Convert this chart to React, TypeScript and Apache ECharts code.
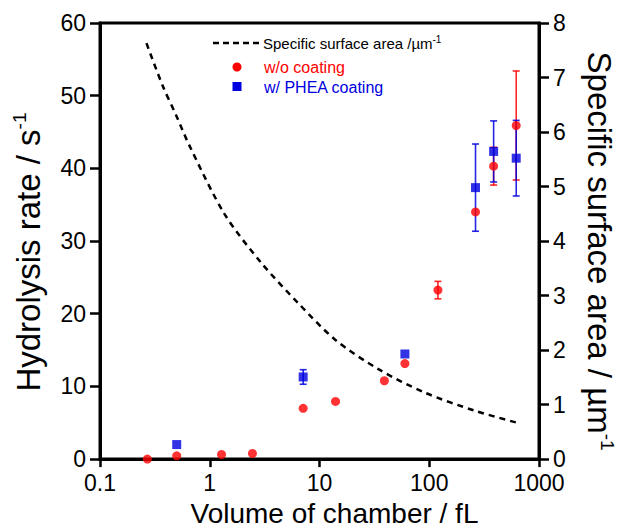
import React, { useEffect, useRef } from "react";
import * as echarts from "echarts";

// Volumes (fL) and hydrolysis rates (s^-1)
const redVolume = [0.27, 0.5, 1.28, 2.45, 7.1, 14, 39, 60, 120, 264, 386, 620];
const redRate = [0.0, 0.45, 0.63, 0.77, 6.98, 7.93, 10.78, 13.14, 23.25, 34.0, 40.3, 45.9];
const redErr = [0, 0, 0, 0, 0, 0, 0, 0, 1.2, 0, 2.6, 7.5];

const blueVolume = [0.5, 7.1, 60, 264, 386, 620];
const blueRate = [2.0, 11.3, 14.46, 37.35, 42.33, 41.4];
const blueErr = [0, 1.0, 0, 6.0, 4.2, 5.2];

// Specific surface area curve (µm^-1)
const curveVolume = [0.265, 0.374, 0.496, 0.653, 1.36, 2.92, 6.48, 13.9, 34.4, 91, 258, 637];
const curveSSA = [7.63, 6.84, 6.3, 5.75, 4.5, 3.61, 2.85, 2.19, 1.65, 1.22, 0.89, 0.665];

const xTickLabels = ["0.1", "1", "10", "100", "1000"];

const legendLabels = ["Specific surface area /µm", "w/o coating", "w/ PHEA coating"];

const FONT = "'Liberation Sans', Arial, sans-serif";
const RED = "#ff0000";
const BLUE = "#0000e0";

function errorRender(color: string) {
  return (params: any, api: any) => {
    const x = api.value(0);
    const y = api.value(1);
    const e = api.value(2);
    if (!e) return null;
    const top = api.coord([x, y + e]);
    const bot = api.coord([x, y - e]);
    const w = 3.5;
    const style = { stroke: color, lineWidth: 1.6, opacity: 0.85 };
    return {
      type: "group",
      children: [
        { type: "line", shape: { x1: top[0], y1: top[1], x2: bot[0], y2: bot[1] }, style },
        { type: "line", shape: { x1: top[0] - w, y1: top[1], x2: top[0] + w, y2: top[1] }, style },
        { type: "line", shape: { x1: bot[0] - w, y1: bot[1], x2: bot[0] + w, y2: bot[1] }, style },
      ],
    };
  };
}

const titleRich = {
  t: { fontSize: 33, fontFamily: FONT, color: "#000", lineHeight: 36 },
  s: { fontSize: 19, fontFamily: FONT, color: "#000", verticalAlign: "top", lineHeight: 36 },
};

export default function App() {
  const ref = useRef<HTMLDivElement>(null);
  useEffect(() => {
    if (!ref.current) return;
    const chart = echarts.init(ref.current, null, { renderer: "svg" });
    const axisLine = { show: true, lineStyle: { color: "#000", width: 3 } };
    const option: any = {
      animation: false,
      backgroundColor: "#fff",
      grid: {
        left: 100,
        right: 83,
        top: 23,
        bottom: 68,
        show: true,
        borderColor: "#000",
        borderWidth: 3,
      },
      xAxis: {
        type: "log",
        logBase: 10,
        min: 0.1,
        max: 1000,
        name: "Volume of chamber / fL",
        nameLocation: "middle",
        nameGap: 38,
        nameTextStyle: { fontSize: 28, color: "#000", fontFamily: FONT, padding: [0, 0, 0, 30] },
        axisLine,
        axisTick: { show: true, inside: false, length: 8, lineStyle: { color: "#000", width: 2.5 } },
        minorTick: { show: false },
        splitLine: { show: false },
        axisLabel: {
          color: "#000",
          fontSize: 23,
          fontFamily: FONT,
          margin: 12,
          formatter: (_v: number, i: number) => xTickLabels[i] ?? "",
        },
      },
      yAxis: [
        {
          type: "value",
          min: 0,
          max: 60,
          interval: 10,
          position: "left",
          name: "{t|Hydrolysis rate / s}{s|-1}",
          nameLocation: "middle",
          nameGap: 54,
          nameTextStyle: {
            color: "#000",
            fontFamily: FONT,
            padding: [0, 22, 0, 0],
            rich: titleRich,
          },
          axisLine,
          axisTick: { show: true, inside: false, length: 10, lineStyle: { color: "#000", width: 2.5 } },
          splitLine: { show: false },
          axisLabel: { color: "#000", fontSize: 23, fontFamily: FONT, margin: 14 },
        },
        {
          type: "value",
          min: 0,
          max: 8,
          interval: 1,
          position: "right",
          name: "{t|Specific surface area / µm}{s|-1}",
          nameLocation: "middle",
          nameRotate: -90,
          nameGap: 42,
          nameTextStyle: {
            color: "#000",
            fontFamily: FONT,
            padding: [0, 0, 0, 20],
            rich: titleRich,
          },
          axisLine,
          axisTick: { show: true, inside: false, length: 10, lineStyle: { color: "#000", width: 2.5 } },
          splitLine: { show: false },
          axisLabel: { color: "#000", fontSize: 23, fontFamily: FONT, margin: 14 },
        },
      ],
      series: [
        {
          name: "curve",
          type: "line",
          yAxisIndex: 1,
          data: curveVolume.map((v, i) => [v, curveSSA[i]]),
          symbol: "none",
          smooth: 0.3,
          lineStyle: { color: "#000", width: 2.5, type: [6, 5] },
          z: 2,
        },
        {
          name: "redErr",
          type: "custom",
          yAxisIndex: 0,
          renderItem: errorRender(RED),
          data: redVolume.map((v, i) => [v, redRate[i], redErr[i]]),
          encode: { x: 0, y: 1 },
          z: 3,
        },
        {
          name: "blueErr",
          type: "custom",
          yAxisIndex: 0,
          renderItem: errorRender(BLUE),
          data: blueVolume.map((v, i) => [v, blueRate[i], blueErr[i]]),
          encode: { x: 0, y: 1 },
          z: 3,
        },
        {
          name: "w/o coating",
          type: "scatter",
          yAxisIndex: 0,
          data: redVolume.map((v, i) => [v, redRate[i]]),
          symbol: "circle",
          symbolSize: 9,
          itemStyle: { color: RED },
          z: 4,
        },
        {
          name: "w/ PHEA coating",
          type: "scatter",
          yAxisIndex: 0,
          data: blueVolume.map((v, i) => [v, blueRate[i]]),
          symbol: "rect",
          symbolSize: 9,
          itemStyle: { color: BLUE },
          z: 4,
        },
      ],
      graphic: [
        {
          type: "line",
          shape: { x1: 213, y1: 43, x2: 260, y2: 43 },
          style: { stroke: "#000", lineWidth: 2.5, lineDash: [6, 4] },
        },
        {
          type: "text",
          x: 263,
          y: 43,
          style: {
            text: "{t|" + legendLabels[0] + "}{s|-1}",
            verticalAlign: "middle",
            fill: "#000",
            rich: {
              t: { fontSize: 15, fontFamily: FONT, fill: "#000", lineHeight: 18 },
              s: { fontSize: 10, fontFamily: FONT, fill: "#000", verticalAlign: "top", lineHeight: 18 },
            },
          },
        },
        { type: "circle", shape: { cx: 237, cy: 67, r: 4.5 }, style: { fill: RED } },
        {
          type: "text",
          x: 264,
          y: 67,
          style: { text: legendLabels[1], fontSize: 16, fontFamily: FONT, fill: RED, verticalAlign: "middle" },
        },
        { type: "rect", shape: { x: 232.5, y: 82, width: 9, height: 9 }, style: { fill: BLUE } },
        {
          type: "text",
          x: 264,
          y: 87,
          style: { text: legendLabels[2], fontSize: 16, fontFamily: FONT, fill: BLUE, verticalAlign: "middle" },
        },
      ],
    };
    chart.setOption(option);
    return () => chart.dispose();
  }, []);
  return (
    <div
      ref={ref}
      style={{ position: "fixed", left: 0, top: 0, width: 625, height: 532, background: "#fff" }}
    />
  );
}
